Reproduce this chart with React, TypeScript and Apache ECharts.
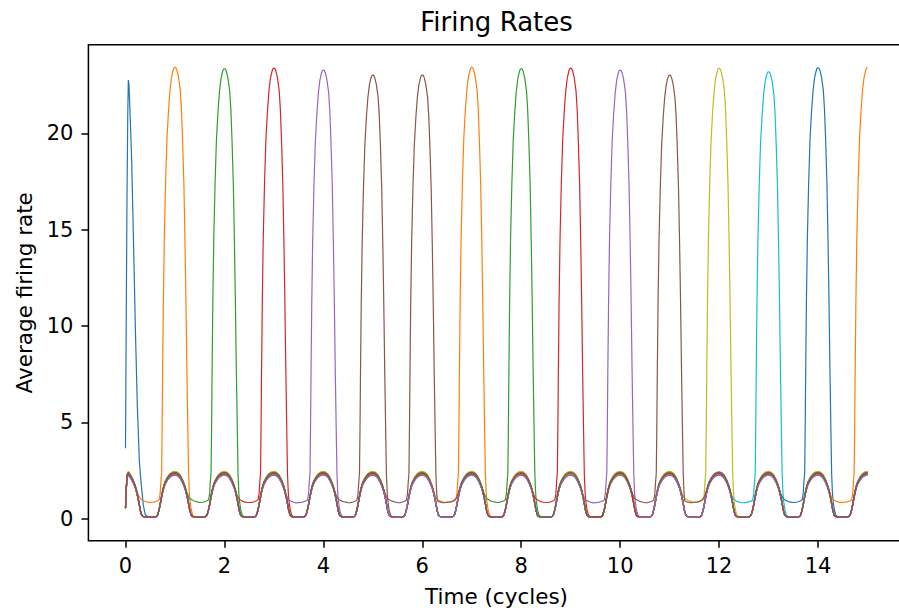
import React, { useEffect, useRef } from "react";
import * as echarts from "echarts";

// ---------- data ----------
const TAB10 = ["#1f77b4", "#ff7f0e", "#2ca02c", "#d62728", "#9467bd", "#8c564b", "#e377c2", "#7f7f7f", "#bcbd22", "#17becf"];

const xTicks = [0, 2, 4, 6, 8, 10, 12, 14];
const yTicks = [0, 5, 10, 15, 20];
const lastCycle = 15;

// cycle(s) at which each of the 16 traces fires its large burst
const firingCycles: number[][] = [[0], [1], [2], [3], [4], [5], [], [], [12], [13], [14], [7, 15], [8], [9], [10], [6, 11]];
// additional inter-cycle troughs (j = between cycle j and j+1) where a trace stays elevated
const extraTroughs: number[][] = [[], [], [], [], [], [], [], [], [], [], [], [], [], [], [], [6, 11]];
// peak height of the burst at each cycle 0..15
const peakHeights = [22.77, 23.43, 23.36, 23.39, 23.29, 23.03, 23.03, 23.43, 23.36, 23.39, 23.29, 23.03, 23.38, 23.2, 23.41, 23.43];
// top of the small oscillation for each trace
const humpTops = [2.3, 2.38, 2.42, 2.33, 2.26, 2.36, 2.44, 2.31, 2.46, 2.28, 2.37, 2.32, 2.41, 2.35, 2.27, 2.39];

// one-cycle shapes, [offset from integer cycle, value]
const humpLeft = [[-0.5, 0.08], [-0.45, 0.08], [-0.4, 0.09], [-0.375, 0.11], [-0.35, 0.2], [-0.325, 0.42], [-0.3, 0.72], [-0.275, 1.08], [-0.25, 1.4], [-0.225, 1.66], [-0.2, 1.85], [-0.15, 2.08], [-0.1, 2.24], [-0.05, 2.32]];
const humpLeftElev = [[-0.5, 0.84], [-0.45, 0.85], [-0.4, 0.88], [-0.35, 0.95], [-0.3, 1.1], [-0.275, 1.3], [-0.25, 1.5], [-0.225, 1.7], [-0.2, 1.87], [-0.15, 2.08], [-0.1, 2.24], [-0.05, 2.32]];
const humpRight = [[0.05, 2.31], [0.1, 2.19], [0.15, 1.96], [0.2, 1.63], [0.225, 1.4], [0.25, 1.12], [0.275, 0.78], [0.3, 0.42], [0.325, 0.2], [0.35, 0.12], [0.4, 0.09], [0.45, 0.08]];
const humpRightElev = [[0.05, 2.31], [0.1, 2.19], [0.15, 1.96], [0.2, 1.63], [0.225, 1.45], [0.25, 1.27], [0.275, 1.12], [0.3, 1.02], [0.35, 0.94], [0.4, 0.88], [0.45, 0.85]];
const peakLeft = [[-0.5, 0.84], [-0.45, 0.85], [-0.4, 0.88], [-0.35, 0.93], [-0.32, 0.98], [-0.3, 1.3], [-0.285, 1.9], [-0.27, 2.4], [-0.26, 4.6], [-0.25, 7.5], [-0.235, 11.2], [-0.216, 14.5], [-0.19, 17.4], [-0.162, 19.7], [-0.13, 21.2], [-0.1, 22.25], [-0.07, 22.9], [-0.04, 23.25], [-0.02, 23.4]];
const peakRight = [[0.02, 23.4], [0.04, 23.28], [0.07, 22.95], [0.107, 22.25], [0.13, 21.3], [0.154, 19.65], [0.18, 17.4], [0.202, 14.46], [0.22, 11.6], [0.242, 7.53], [0.26, 4.6], [0.275, 2.34], [0.29, 1.4], [0.303, 0.95], [0.33, 0.45], [0.36, 0.18], [0.4, 0.1], [0.45, 0.08]];
const peakRightElev = [[0.02, 23.4], [0.04, 23.28], [0.07, 22.95], [0.107, 22.25], [0.13, 21.3], [0.154, 19.65], [0.18, 17.4], [0.202, 14.46], [0.22, 11.6], [0.242, 7.53], [0.26, 4.6], [0.275, 2.34], [0.29, 1.4], [0.303, 0.95], [0.33, 0.9], [0.37, 0.87], [0.42, 0.85], [0.46, 0.84]];
const startFire = [[0, 3.65], [0.015, 10.5], [0.03, 16.5], [0.045, 20.8], [0.057, 22.77], [0.07, 22.55], [0.09, 21.2], [0.125, 18.6], [0.17, 13.4], [0.2, 9.8], [0.24, 5.8], [0.28, 3.0], [0.31, 2.0], [0.33, 1.47], [0.36, 0.7], [0.4, 0.2], [0.45, 0.1]];
const startHump = [[0, 0.55], [0.012, 1.35], [0.025, 1.95], [0.04, 2.27], [0.06, 2.34]];

const PEAK_REF = 23.43;
const HUMP_REF = 2.35;
const FLOOR = 0.08;

function buildTrace(L: number): number[][] {
  const fires = (k: number) => firingCycles[L].includes(k);
  const elevated = (j: number) => fires(j + 1) || extraTroughs[L].includes(j);
  const top = humpTops[L];
  const hs = (v: number) => FLOOR + ((v - FLOOR) * (top - FLOOR)) / (HUMP_REF - FLOOR);
  const pts: number[][] = [];
  for (let k = 0; k <= lastCycle; k++) {
    const ps = peakHeights[k] / PEAK_REF;
    if (k === 0) {
      if (fires(0)) {
        startFire.forEach(([o, v]) => pts.push([o, v]));
        continue;
      }
      startHump.forEach(([o, v]) => pts.push([o, hs(v)]));
      const r = elevated(0) ? humpRightElev : humpRight;
      r.filter(([o]) => o > 0.06).forEach(([o, v]) => pts.push([o, hs(v)]));
      continue;
    }
    // left half
    if (fires(k)) {
      peakLeft.forEach(([o, v]) => pts.push([k + o, v * ps]));
      pts.push([k, peakHeights[k]]);
    } else {
      (elevated(k - 1) ? humpLeftElev : humpLeft).forEach(([o, v]) => pts.push([k + o, hs(v)]));
      pts.push([k, top]);
    }
    if (k === lastCycle) break;
    // right half
    if (fires(k)) {
      (elevated(k) ? peakRightElev : peakRight).forEach(([o, v]) => pts.push([k + o, v * ps]));
    } else {
      (elevated(k) ? humpRightElev : humpRight).forEach(([o, v]) => pts.push([k + o, hs(v)]));
    }
  }
  return pts;
}

const FONT = "DejaVu Sans";

export default function App() {
  const ref = useRef<HTMLDivElement>(null);
  useEffect(() => {
    if (!ref.current) return;
    const chart = echarts.init(ref.current, undefined, { renderer: "svg" });
    const series = firingCycles.map((_, L) => ({
      type: "line",
      data: buildTrace(L),
      showSymbol: false,
      symbol: "none",
      lineStyle: { color: TAB10[L % 10], width: 1.2 },
      itemStyle: { color: TAB10[L % 10] },
      silent: true,
    }));
    const gridLeft = 88.4;
    const gridTop = 44.8;
    const gridW = 816.2;
    const gridH = 496;
    chart.setOption({
      animation: false,
      grid: { left: gridLeft, top: gridTop, width: gridW, height: gridH, show: true, borderColor: "#000", borderWidth: 1.5, backgroundColor: "transparent" },
      xAxis: {
        type: "value",
        min: -0.75,
        max: 15.75,
        axisLine: { show: false, onZero: false },
        splitLine: { show: false },
        axisTick: { show: true, inside: false, length: 7, lineStyle: { color: "#000", width: 1.5 }, customValues: xTicks },
        axisLabel: { customValues: xTicks, fontSize: 21, color: "#000", fontFamily: FONT, margin: 15 },
      },
      yAxis: {
        type: "value",
        min: -1.15,
        max: 24.6,
        axisLine: { show: false, onZero: false },
        splitLine: { show: false },
        axisTick: { show: true, inside: false, length: 7, lineStyle: { color: "#000", width: 1.5 }, customValues: yTicks },
        axisLabel: { customValues: yTicks, fontSize: 21, color: "#000", fontFamily: FONT, margin: 15 },
      },
      graphic: [
        { type: "text", x: gridLeft + gridW / 2, y: 22, style: { text: "Firing Rates", fontSize: 26, fill: "#000", fontFamily: FONT, align: "center", verticalAlign: "middle" } },
        { type: "text", x: gridLeft + gridW / 2, y: 596, style: { text: "Time (cycles)", fontSize: 21.5, fill: "#000", fontFamily: FONT, align: "center", verticalAlign: "middle" } },
        { type: "text", x: 24, y: gridTop + gridH / 2, rotation: Math.PI / 2, style: { text: "Average firing rate", fontSize: 21.5, fill: "#000", fontFamily: FONT, align: "center", verticalAlign: "middle" } },
      ],
      series,
    });
    return () => chart.dispose();
  }, []);
  return (
    <div style={{ position: "fixed", left: 0, top: 0, width: 899, height: 611, overflow: "hidden", background: "#fff" }}>
      <div ref={ref} style={{ width: 920, height: 611 }} />
    </div>
  );
}
